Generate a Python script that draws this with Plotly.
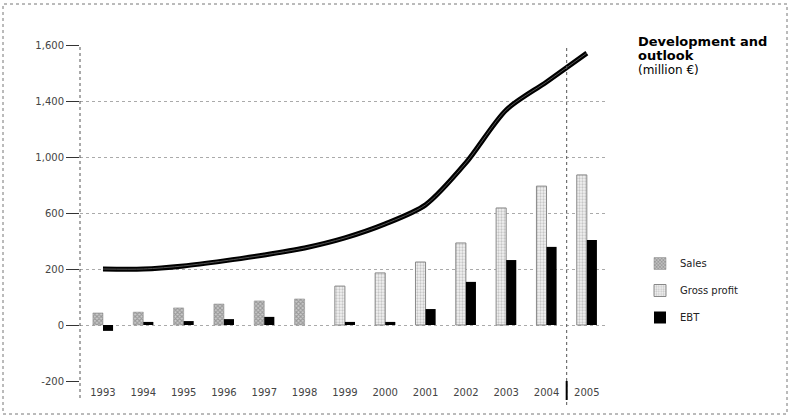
import plotly.graph_objects as go

years = ["1993", "1994", "1995", "1996", "1997", "1998", "1999",
         "2000", "2001", "2002", "2003", "2004", "2005"]
# values in the chart's own (scanned) axis units
trend_line = [200, 200, 211, 229, 250, 275, 311, 361, 429, 579, 768, 868, 971]
sales = [43, 46, 61, 75, 86, 93, None, None, None, None, None, None, None]
gross_profit = [None, None, None, None, None, None, 139, 186, 225, 293, 418, 496, 536]
ebt = [-21, 11, 14, 21, 29, None, 11, 11, 57, 154, 232, 279, 304]

ytick_vals = [-200, 0, 200, 400, 600, 800, 1000]
ytick_text = ["-200", "0", "200", "600", "1,000", "1,400", "1,600"]

FONT = "DejaVu Sans"

fig = go.Figure()
fig.add_trace(go.Bar(
    x=years, y=gross_profit, name="Gross profit", offsetgroup="a",
    legendgroup="g2", legendrank=2,
    marker=dict(color="#eee", line=dict(color="#888", width=1),
                pattern=dict(shape=".", fgcolor="#999", bgcolor="#f2f2f2", size=3, solidity=0.45)),
))
fig.add_trace(go.Bar(
    x=years, y=sales, name="Sales", offsetgroup="a",
    legendgroup="g1", legendrank=1,
    marker=dict(color="#bbb", line=dict(color="#888", width=0.5),
                pattern=dict(shape="x", fgcolor="#666", bgcolor="#ccc", size=3, solidity=0.6)),
))
fig.add_trace(go.Bar(
    x=years, y=ebt, name="EBT", offsetgroup="b",
    legendgroup="g3", legendrank=3,
    marker=dict(color="black", line=dict(width=0)),
))
fig.add_trace(go.Scatter(
    x=years, y=trend_line, mode="lines", showlegend=False,
    line=dict(color="black", width=5, shape="spline", smoothing=0.8),
))
fig.add_trace(go.Scatter(
    x=years, y=trend_line, mode="lines", showlegend=False,
    line=dict(color="#555", width=1, shape="spline", smoothing=0.8),
))

L, R, T, B = 80, 183, 45, 37
W = 790 - L - R
H = 418 - T - B

def px(xp):
    return (xp - L) / W

def py(yp):
    return (418 - B - yp) / H

shapes = [
    dict(type="rect", xref="paper", yref="paper", x0=px(3), x1=px(787), y0=py(414), y1=py(4),
         line=dict(color="#777", width=1, dash="dot"), fillcolor="rgba(0,0,0,0)", layer="below"),
    dict(type="line", xref="paper", yref="paper", x0=0, x1=0, y0=py(398), y1=1,
         line=dict(color="#555", width=1, dash="dot")),
    dict(type="line", xref="x", yref="paper", x0=11.5, x1=11.5, y0=py(405), y1=1,
         line=dict(color="#555", width=1, dash="dot")),
    dict(type="line", xref="x", yref="paper", x0=11.5, x1=11.5, y0=py(400), y1=0,
         line=dict(color="black", width=2)),
]

title_lines = [
    ("<b>Development and</b>", 41),
    ("<b>outlook</b>", 55),
    ("(million €)", 70),
]
annotations = [
    dict(xref="paper", yref="paper", x=px(636), y=py(yc), xanchor="left", yanchor="middle",
         align="left", showarrow=False, text=t,
         font=dict(family=FONT, size=13 if "<b>" in t else 12, color="black"))
    for t, yc in title_lines
]

fig.update_layout(
    width=790, height=418,
    margin=dict(l=L, r=R, t=T, b=B, autoexpand=False),
    paper_bgcolor="white", plot_bgcolor="white",
    barmode="group", bargap=0.5, bargroupgap=0,
    font=dict(family=FONT, size=10, color="#333"),
    showlegend=True,
    legend=dict(x=px(640), xanchor="left", y=py(249), yanchor="top",
                font=dict(family=FONT, size=10, color="#222"),
                tracegroupgap=8, bgcolor="rgba(0,0,0,0)"),
    xaxis=dict(type="category", range=[-0.57, 12.5], showgrid=False, showline=False,
               zeroline=False, ticks="", ticklabelstandoff=4,
               tickfont=dict(size=10, color="#444")),
    yaxis=dict(range=[-200, 1000], tickvals=ytick_vals, ticktext=ytick_text,
               showgrid=True, gridcolor="#aaa", griddash="dot", gridwidth=1,
               zeroline=False, showline=False, ticks="outside", ticklen=13,
               tickcolor="#333", tickwidth=1, tickfont=dict(size=10, color="#444")),
    shapes=shapes,
    annotations=annotations,
)

fig.write_html("out.html", config={"displayModeBar": False},
               post_script="document.body.style.margin='0';document.body.style.overflow='hidden';")
